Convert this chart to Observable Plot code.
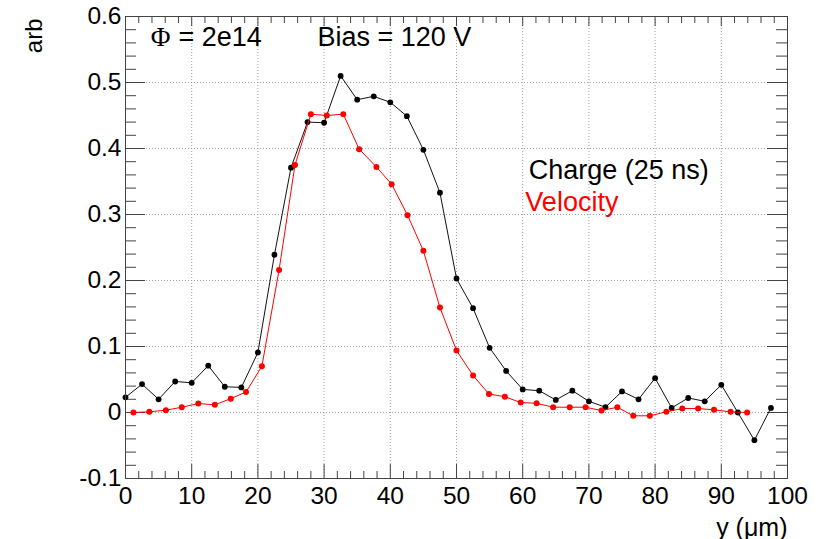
<!DOCTYPE html>
<html>
<head>
<meta charset="utf-8">
<script src="https://cdn.jsdelivr.net/npm/d3@7"></script>
<script src="https://cdn.jsdelivr.net/npm/@observablehq/plot@0.6"></script>
<style>
  html, body { margin: 0; padding: 0; background: white; }
  #chart svg { display: block; }
</style>
</head>
<body>
<div id="chart"></div>
<script>
// ---- data ----
const chargeX = [0, 2.5, 5, 7.5, 10, 12.5, 15, 17.5, 20, 22.5, 25, 27.5, 30, 32.5, 35, 37.5, 40, 42.5, 45, 47.5,
                 50, 52.5, 55, 57.5, 60, 62.5, 65, 67.5, 70, 72.5, 75, 77.5, 80, 82.5, 85, 87.5, 90, 92.5, 95, 97.5];
const chargeY = [0.023, 0.043, 0.020, 0.047, 0.045, 0.071, 0.039, 0.038, 0.091, 0.239, 0.371, 0.440, 0.439, 0.510, 0.474, 0.479, 0.470, 0.449, 0.398, 0.333,
                 0.203, 0.158, 0.098, 0.063, 0.035, 0.033, 0.019, 0.033, 0.017, 0.008, 0.032, 0.020, 0.052, 0.007, 0.022, 0.017, 0.042, 0.000, -0.042, 0.007];
const velocityX = [1.2, 3.6, 6.1, 8.5, 11.0, 13.5, 15.9, 18.2, 20.6, 23.2, 25.6, 28.0, 30.4, 32.9, 35.3, 37.9, 40.2, 42.6, 45.0, 47.5,
                   50.0, 52.5, 54.9, 57.3, 59.7, 62.1, 64.6, 67.1, 69.5, 71.9, 74.3, 76.7, 79.2, 81.7, 84.1, 86.5, 88.9, 91.4, 93.9];
const velocityY = [0.000, 0.001, 0.0035, 0.008, 0.0136, 0.0116, 0.021, 0.031, 0.070, 0.216, 0.375, 0.452, 0.450, 0.452, 0.399, 0.372, 0.346, 0.299, 0.245, 0.159,
                   0.094, 0.056, 0.028, 0.024, 0.015, 0.014, 0.008, 0.008, 0.008, 0.003, 0.008, -0.005, -0.005, 0.001, 0.006, 0.006, 0.004, 0.001, 0.000];

const xTicks = [0, 10, 20, 30, 40, 50, 60, 70, 80, 90, 100];
const yTicks = [-0.1, 0, 0.1, 0.2, 0.3, 0.4, 0.5, 0.6];
const xMinor = d3.range(0, 100.001, 2).filter(v => v % 10 !== 0);
const yMinor = d3.range(-0.1, 0.6001, 0.02).map(v => +v.toFixed(2)).filter(v => Math.abs(v * 10 - Math.round(v * 10)) > 1e-6);

const seriesLabels = ["Charge (25 ns)", "Velocity"];
const fluenceSymbol = "\u03A6";
const fluenceValue = "= 2e14";
const biasText = "Bias = 120 V";
const xTitle = "y (\u03BCm)";
const yTitle = "arb";

const charge = chargeX.map((x, i) => ({x, y: chargeY[i]}));
const velocity = velocityX.map((x, i) => ({x, y: velocityY[i]}));

// ---- layout ----
const W = 829, H = 539;
const mL = 125, mR = 42, mT = 16, mB = 61;
const fw = W - mL - mR, fh = H - mT - mB;
const tickCol = "#444";
const font = "'Liberation Sans', Arial, Helvetica, sans-serif";

const chart = Plot.plot({
  width: W, height: H,
  marginLeft: mL, marginRight: mR, marginTop: mT, marginBottom: mB,
  style: {fontFamily: font, fontSize: "24px", background: "white", color: "black"},
  x: {domain: [0, 100]},
  y: {domain: [-0.1, 0.6]},
  marks: [
    // grid
    Plot.ruleX(xTicks.slice(1, -1), {x: d => d, stroke: "#888", strokeWidth: 0.8, strokeDasharray: "1,2"}),
    Plot.ruleY(yTicks.slice(1, -1), {y: d => d, stroke: "#888", strokeWidth: 0.8, strokeDasharray: "1,2"}),
    // inner ticks: bottom / top
    Plot.ruleX(xTicks, {x: d => d, stroke: tickCol, insetTop: fh - 14}),
    Plot.ruleX(xMinor, {x: d => d, stroke: tickCol, insetTop: fh - 7}),
    Plot.ruleX(xTicks, {x: d => d, stroke: tickCol, insetBottom: fh - 10}),
    Plot.ruleX(xMinor, {x: d => d, stroke: tickCol, insetBottom: fh - 7}),
    // inner ticks: left / right
    Plot.ruleY(yTicks, {y: d => d, stroke: tickCol, insetRight: fw - 20}),
    Plot.ruleY(yMinor, {y: d => d, stroke: tickCol, insetRight: fw - 11}),
    Plot.ruleY(yTicks, {y: d => d, stroke: tickCol, insetLeft: fw - 20}),
    Plot.ruleY(yMinor, {y: d => d, stroke: tickCol, insetLeft: fw - 11}),
    // axis labels
    Plot.axisX(xTicks, {tickSize: 0, tickPadding: 8, fontSize: 24.5, label: null, tickFormat: d => String(d)}),
    Plot.axisY(yTicks, {tickSize: 0, tickPadding: 4, fontSize: 24.5, label: null,
      tickFormat: d => d === 0 ? "0" : d.toFixed(1)}),
    // series
    Plot.line(charge, {x: "x", y: "y", stroke: "#111", strokeWidth: 1}),
    Plot.dot(charge, {x: "x", y: "y", fill: "black", r: 2.9}),
    Plot.line(velocity, {x: "x", y: "y", stroke: "#ff0000", strokeWidth: 1}),
    Plot.dot(velocity, {x: "x", y: "y", fill: "#ff0000", r: 3}),
    Plot.frame({stroke: tickCol, strokeWidth: 1}),
    // annotations
    Plot.text([fluenceSymbol], {x: 3.8, y: 0.556, text: d => d, textAnchor: "start", lineAnchor: "bottom", fontSize: 27, fontFamily: "'Liberation Serif', 'DejaVu Serif', serif", fill: "black"}),
    Plot.text([fluenceValue], {x: 8.0, y: 0.556, text: d => d, textAnchor: "start", lineAnchor: "bottom", fontSize: 27, fill: "black"}),
    Plot.text([biasText], {x: 29.0, y: 0.556, text: d => d, textAnchor: "start", lineAnchor: "bottom", fontSize: 27, fill: "black"}),
    Plot.text([seriesLabels[0]], {x: 60.9, y: 0.3545, text: d => d, textAnchor: "start", lineAnchor: "bottom", fontSize: 27, fill: "black"}),
    Plot.text([seriesLabels[1]], {x: 60.4, y: 0.306, text: d => d, textAnchor: "start", lineAnchor: "bottom", fontSize: 27, fill: "#ff0000"}),
    // axis titles
    Plot.text([xTitle], {frameAnchor: "bottom-right", text: d => d, textAnchor: "end", lineAnchor: "middle", dy: 49, fontSize: 25, fill: "black"}),
    Plot.text([yTitle], {frameAnchor: "top-left", text: d => d, textAnchor: "end", lineAnchor: "middle", rotate: -90, dx: -91, dy: 2, fontSize: 24, fill: "black"})
  ]
});
document.getElementById("chart").appendChild(chart);
</script>
</body>
</html>
